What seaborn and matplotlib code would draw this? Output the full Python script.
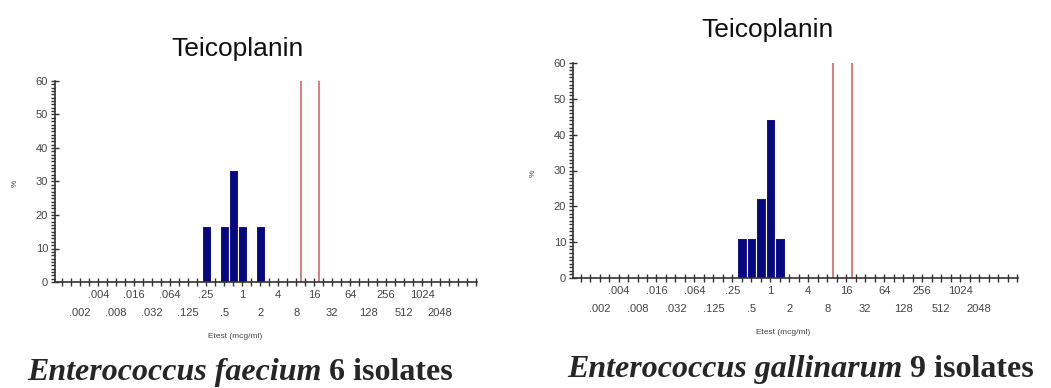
import numpy as np
import seaborn as sns
import matplotlib.pyplot as plt

# Etest MIC values (mcg/ml) and number of isolates at each value
faecium_mic = [0.25, 0.5, 0.75, 1, 2]
faecium_count = [1, 1, 2, 1, 1]
gallinarum_mic = [0.38, 0.5, 0.75, 1, 1.5]
gallinarum_count = [1, 1, 2, 4, 1]

# breakpoint lines (S <= 8, R >= 32), drawn between dilution steps
breakpoints = [9.8, 19.6]

# labelled dilutions: upper row = even powers of 2, lower row = odd powers
upper_vals = [2.0 ** k for k in range(-8, 11, 2)]
upper_labels = ['.004', '.016', '.064', '.25', '1', '4', '16', '64', '256', '1024']
lower_vals = [2.0 ** k for k in range(-9, 12, 2)]
lower_labels = ['.002', '.008', '.032', '.125', '.5', '2', '8', '32', '128', '512', '2048']

antibiotic = 'Teicoplanin'
captions = [('Enterococcus faecium', '6 isolates'), ('Enterococcus gallinarum', '9 isolates')]

sns.set_style('white')
plt.rcParams['font.family'] = ['Liberation Sans', 'DejaVu Sans']

fig = plt.figure(figsize=(10.51, 3.88), dpi=100)
W, H = 1051, 388

def px(x0, y0, x1, y1):
    return [x0 / W, 1 - y1 / H, (x1 - x0) / W, (y1 - y0) / H]

ax1 = fig.add_axes(px(55, 81, 477, 282))
ax2 = fig.add_axes(px(573, 63, 1018, 278))

panels = [
    (ax1, faecium_mic, faecium_count, 238, 56, 15, 183, 235, 336, 27, 380),
    (ax2, gallinarum_mic, gallinarum_count, 767, 37, 533, 173, 783, 333, 567, 377),
]

half_steps = [2.0 ** k for k in np.arange(-10, 13.01, 0.5)]
minor_vals = [v for v in half_steps if not any(np.isclose(v, u) for u in upper_vals)]
minor_labels = []
for v in minor_vals:
    lab = ''
    for lv, ll in zip(lower_vals, lower_labels):
        if np.isclose(v, lv):
            lab = ll
    minor_labels.append(lab)

for i, (ax, mic, cnt, tx, ty, yx, yy, ex, ey, cx, cy) in enumerate(panels):
    sns.histplot(x=mic, weights=cnt, stat='percent', log_scale=2,
                 binwidth=0.5, binrange=(-2.25, 1.25),
                 color='#07077f', alpha=1, edgecolor='white', linewidth=0.8, ax=ax)
    for b in breakpoints:
        ax.axvline(b, color='#e07a7a', lw=1.4)
    ax.set_xlim(2 ** -10.4, 2 ** 13.05)
    ax.set_ylim(0, 60)
    ax.set_xticks(upper_vals, upper_labels)
    ax.set_xticks(minor_vals, minor_labels, minor=True)
    ax.set_yticks(range(0, 61, 10))
    ax.set_yticks(range(0, 61, 1), minor=True)
    ax.tick_params(axis='x', which='both', bottom=True, direction='inout', length=6, width=1,
                   color='#333333', labelsize=8, labelcolor='#444444')
    ax.tick_params(axis='x', which='major', pad=3)
    ax.tick_params(axis='x', which='minor', pad=16)
    ax.tick_params(axis='y', which='major', left=True, direction='inout', length=6, width=1,
                   color='#333333', labelsize=8, labelcolor='#444444', pad=2)
    ax.tick_params(axis='y', which='minor', left=True, direction='out', length=3, width=1,
                   color='#333333')
    ax.set_xlabel('')
    ax.set_ylabel('')
    sns.despine(ax=ax)
    for s in ['left', 'bottom']:
        ax.spines[s].set_color('#333333')
        ax.spines[s].set_linewidth(1.2)

    fig.text(tx / W, 1 - ty / H, antibiotic, fontsize=19, ha='center', va='baseline', color='#111111')
    fig.text(yx / W, 1 - yy / H, '%', fontsize=6, ha='center', va='center', rotation=90, color='#444444')
    fig.text(ex / W, 1 - ey / H, 'Etest (mcg/ml)', fontsize=6, ha='center', va='center', color='#444444')

    species, n_text = captions[i]
    t1 = fig.text(cx / W, 1 - cy / H, species + ' ', fontsize=23, fontweight='bold',
                  fontstyle='italic', family='Liberation Serif', ha='left', va='baseline')
    fig.canvas.draw()
    bb = t1.get_window_extent()
    fig.text(bb.x1 / W, 1 - cy / H, n_text, fontsize=23, fontweight='bold',
             family='Liberation Serif', ha='left', va='baseline')

fig.savefig('out.png', dpi=100, facecolor='white')
